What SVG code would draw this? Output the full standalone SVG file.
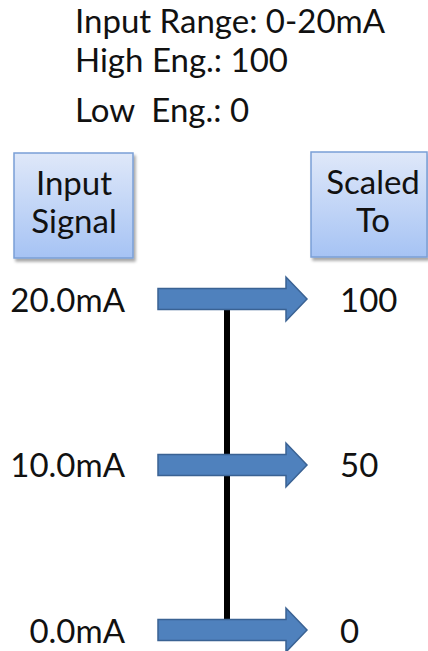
<svg xmlns="http://www.w3.org/2000/svg" width="428" height="651" viewBox="0 0 428 651">
  <defs>
    <linearGradient id="boxFill" x1="0" y1="0" x2="0" y2="1">
      <stop offset="0" stop-color="#dfe8f9"/>
      <stop offset="1" stop-color="#a6c3f4"/>
    </linearGradient>
    <filter id="shadow" x="-10%" y="-10%" width="130%" height="130%">
      <feGaussianBlur in="SourceAlpha" stdDeviation="1.5"/>
      <feOffset dx="2" dy="3" result="off"/>
      <feComponentTransfer><feFuncA type="linear" slope="0.35"/></feComponentTransfer>
      <feMerge><feMergeNode/><feMergeNode in="SourceGraphic"/></feMerge>
    </filter>
    <path id="arrow" d="M158,-10.5 H286 V-22 L307,0 L286,22 V10.5 H158 Z"/>
  </defs>
  <style>
    text { font-family: Lato, "Open Sans", "Liberation Sans", sans-serif; font-size: 33px; fill: #111; }
    .box { fill: url(#boxFill); stroke: #7a9fd6; stroke-width: 1.5; filter: url(#shadow); }
    .arr { fill: #4f81bd; stroke: #3a6293; stroke-width: 1.5; }
    .mid { text-anchor: middle; }
    .end { text-anchor: end; }
  </style>

  <!-- range settings -->
  <g id="settings">
    <text x="75" y="33">Input Range: 0-20mA</text>
    <text x="75" y="72">High Eng.: 100</text>
    <text x="75" y="122" xml:space="preserve">Low  Eng.: 0</text>
  </g>

  <!-- column headers -->
  <g id="input-signal">
    <rect class="box" x="14" y="153" width="119" height="105"/>
    <text class="mid" x="74" y="195">Input</text>
    <text class="mid" x="74" y="233">Signal</text>
  </g>
  <g id="scaled-to">
    <rect class="box" x="311" y="152" width="116" height="105"/>
    <text class="mid" x="373" y="194">Scaled</text>
    <text class="mid" x="373" y="232">To</text>
  </g>

  <!-- scale bar and mapping arrows -->
  <g id="connectors">
    <line x1="227" y1="309" x2="227" y2="620" stroke="#000" stroke-width="6"/>
    <use href="#arrow" class="arr" transform="translate(0,299)"/>
    <use href="#arrow" class="arr" transform="translate(0,465)"/>
    <use href="#arrow" class="arr" transform="translate(0,630)"/>
  </g>

  <g id="row-high">
    <text class="end" x="125" y="312">20.0mA</text>
    <text x="340" y="312">100</text>
  </g>
  <g id="row-mid">
    <text class="end" x="125" y="477">10.0mA</text>
    <text x="340" y="477">50</text>
  </g>
  <g id="row-low">
    <text class="end" x="125" y="643">0.0mA</text>
    <text x="340" y="643">0</text>
  </g>
</svg>
